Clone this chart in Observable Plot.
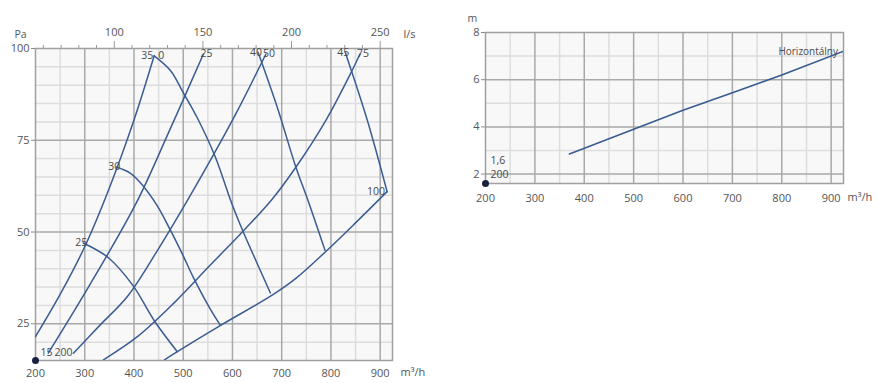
<!DOCTYPE html>
<html><head><meta charset="utf-8">
<script src="https://cdn.jsdelivr.net/npm/d3@7"></script>
<script src="https://cdn.jsdelivr.net/npm/@observablehq/plot@0.6"></script>
<style>
body{margin:0;background:#fff;width:877px;height:383px;overflow:hidden;position:relative;font-family:"Open Sans",sans-serif;}
#left{position:absolute;left:0;top:0}
#right{position:absolute;left:460px;top:0}
</style></head><body>
<div id="left"></div><div id="right"></div>
<script>
// ---------- data ----------
const xTicks = [200, 300, 400, 500, 600, 700, 800, 900];
const paTicks = [25, 50, 75, 100];
const lsTicks = [100, 150, 200, 250];
const mTicks = [2, 4, 6, 8];

// ascending (system / damper position) curves, labelled at their upper end
const sysNames = ["0", "25", "50", "75", "100"];
const sys0   = [[200,21.5],[250,33],[300,46],[350,62],[400,80.5],[441,98]];
const sys25  = [[226,17],[312,36],[405,58],[470,77],[541,98.5]];
const sys50  = [[277,17],[330,24.5],[387,32.5],[450,45.5],[508,58.5],[555,69.5],[610,83],[668,98.5]];
const sys75  = [[338,15.2],[407,21.5],[480,30.5],[555,41],[620,50],[681,59],[728,67.5],[790,80.5],[843,94],[859,98.5]];
const sys100 = [[462,15.2],[488,17.4],[575,24.5],[683,33],[730,37.5],[788,44.5],[850,52.5],[914,61]];

// descending (sound level) curves, labelled at their upper-left start
const sndNames = ["25", "30", "35", "40", "45"];
const snd25 = [[297,47],[348,43],[397,35.6],[443,25.5],[488,17.4]];
const snd30 = [[364,67.7],[393,66],[419,62.5],[448,57],[474,50.5],[500,43.5],[521,37.5],[555,29],[575,24.7]];
const snd35 = [[441,98],[474,94],[500,88],[529,81],[565,70.5],[598,58],[622,50],[650,41.5],[677,33.4]];
const snd40 = [[652,99],[691,84],[728,68],[755,58],[788,45]];
const snd45 = [[829,99],[874,80.4],[914,61]];

// right chart: throw distance
const throwName = "Horizontálny";
const throwLine = [[370,2.85],[500,3.9],[600,4.7],[700,5.45],[800,6.2],[924,7.2]];

// corner point labels
const leftMin = {x: 200, y: 15, xLabel: "200", yLabel: "15"};
const rightMin = {x: 200, y: 1.6, xLabel: "200", yLabel: "1,6"};

// ---------- build ----------
const LINE = "#3a5c92";
const LABEL = "#4a4a4a";
const FONT = "Open Sans, sans-serif";
const sysSeries = [sys0, sys25, sys50, sys75, sys100];
const sndSeries = [snd25, snd30, snd35, snd40, snd45];

const rows = [];
sysSeries.forEach((s, i) => s.forEach(([x, y]) => rows.push({id: "s" + i, x, y})));
sndSeries.forEach((s, i) => s.forEach(([x, y]) => rows.push({id: "d" + i, x, y})));

const sysLabelRows = sysSeries.map((s, i) => ({x: s[s.length - 1][0], y: s[s.length - 1][1], t: sysNames[i]}));
const sndLabelRows = sndSeries.map((s, i) => ({x: s[0][0], y: s[0][1], t: sndNames[i]}));
// simple collision rule: labels sharing the same anchor point are pushed apart
const shared = (a, list) => list.some(b => Math.abs(a.x - b.x) < 6 && Math.abs(a.y - b.y) < 2);
sndLabelRows.forEach(d => d.dx = shared(d, sysLabelRows) ? -7 : -2);
sysLabelRows.forEach(d => d.dx = shared(d, sndLabelRows) ? 7 : 3);

function gridMarks(minorX, majorX, minorY, majorY) {
  return [
    Plot.frame({fill: "#f8f8f8", stroke: null}),
    Plot.ruleX(minorX, {stroke: "#dddddd", strokeWidth: 1.5}),
    Plot.ruleY(minorY, {stroke: "#dddddd", strokeWidth: 1.5}),
    Plot.ruleX(majorX, {stroke: "#a9a9a9", strokeWidth: 1.5}),
    Plot.ruleY(majorY, {stroke: "#a9a9a9", strokeWidth: 1.5}),
    Plot.frame({stroke: "#a0a0a0", strokeWidth: 1.5})
  ];
}

const xMinor = d3.range(250, 925, 100);
const xMajor = d3.range(300, 925, 100);
const paMinor = d3.range(20, 100, 5).filter(v => v % 25 !== 0);
const paMajor = [25, 50, 75];
const lsMinor = d3.range(60, 258, 10).filter(v => v % 50 !== 0).map(v => v * 3.6);

const left = Plot.plot({
  width: 440, height: 383,
  marginLeft: 35, marginRight: 48, marginTop: 48, marginBottom: 23,
  x: {domain: [200, 925]},
  y: {domain: [15, 100]},
  style: {fontFamily: FONT, fontSize: "11px", color: "#555", background: "transparent", overflow: "visible"},
  marks: [
    ...gridMarks(xMinor, xMajor, paMinor, paMajor),
    Plot.axisX(xTicks, {anchor: "bottom", tickSize: 0, tickPadding: 9, label: null}),
    Plot.axisY(paTicks, {anchor: "left", tickSize: 4, tickPadding: 2, stroke: "#888", label: null}),
    Plot.axisX(lsMinor, {anchor: "top", tickSize: 4, text: null, stroke: "#999", label: null}),
    Plot.axisX(lsTicks.map(v => v * 3.6), {anchor: "top", tickSize: 8, tickPadding: 5, stroke: "#999", label: null, tickFormat: d => String(Math.round(d / 3.6))}),
    Plot.line(rows, {x: "x", y: "y", z: "id", stroke: LINE, strokeWidth: 1.5, curve: "catmull-rom", clip: true}),
    ...sndLabelRows.map(d => Plot.text([d], {x: "x", y: "y", text: "t", fill: LABEL, fontSize: 10.5, dx: d.dx})),
    ...sysLabelRows.map(d => Plot.text([d], {x: "x", y: "y", text: "t", fill: LABEL, fontSize: 10.5,
      dx: d.x > 880 ? -2 : d.dx, textAnchor: d.x > 880 ? "end" : "middle"})),
    Plot.dot([leftMin], {x: "x", y: "y", r: 3.5, fill: "#16223f"}),
    Plot.text([leftMin], {x: "x", y: "y", text: "yLabel", fill: LABEL, fontSize: 10.5, textAnchor: "start", dx: 5, dy: -8}),
    Plot.text([leftMin], {x: "x", y: "y", text: "xLabel", fill: LABEL, fontSize: 10.5, textAnchor: "start", dx: 19, dy: -8}),
    Plot.text(["Pa"], {frameAnchor: "top-left", textAnchor: "start", dx: -21, dy: -18, fontSize: 10.5, fill: "#555"}),
    Plot.text(["l/s"], {frameAnchor: "top-right", textAnchor: "start", dx: 11, dy: -18, fill: "#555"}),
    Plot.text(["m³/h"], {frameAnchor: "bottom-right", textAnchor: "start", dx: 8, dy: 15, fill: "#555"})
  ]
});
document.getElementById("left").appendChild(left);

const throwRows = throwLine.map(([x, y]) => ({x, y}));
const throwEnd = throwRows[throwRows.length - 1];

const right = Plot.plot({
  width: 417, height: 230,
  marginLeft: 25, marginRight: 34, marginTop: 32, marginBottom: 47,
  x: {domain: [200, 925]},
  y: {domain: [1.6, 8]},
  style: {fontFamily: FONT, fontSize: "11px", color: "#555", background: "transparent", overflow: "visible"},
  marks: [
    ...gridMarks(xMinor, xMajor, [3, 5, 7], [2, 4, 6]),
    Plot.axisX(xTicks, {anchor: "bottom", tickSize: 0, tickPadding: 11, label: null}),
    Plot.axisY(mTicks, {anchor: "left", tickSize: 4, tickPadding: 2, stroke: "#888", label: null}),
    Plot.line(throwRows, {x: "x", y: "y", stroke: LINE, strokeWidth: 1.6, clip: true}),
    Plot.text([{...throwEnd, t: throwName}], {x: "x", y: "y", text: "t", fill: LABEL, fontSize: 10, textAnchor: "end", dx: -5}),
    Plot.dot([rightMin], {x: "x", y: "y", r: 3.5, fill: "#16223f"}),
    Plot.text([rightMin], {x: "x", y: "y", text: "yLabel", fill: LABEL, fontSize: 10.5, textAnchor: "start", dx: 5, dy: -23}),
    Plot.text([rightMin], {x: "x", y: "y", text: "xLabel", fill: LABEL, fontSize: 10.5, textAnchor: "start", dx: 5, dy: -9}),
    Plot.text(["m"], {frameAnchor: "top-left", textAnchor: "start", dx: -18, dy: -18, fontSize: 10.5, fill: "#555"}),
    Plot.text(["m³/h"], {frameAnchor: "bottom-right", textAnchor: "start", dx: 4, dy: 17, fill: "#555"})
  ]
});
document.getElementById("right").appendChild(right);
</script>
</body></html>
